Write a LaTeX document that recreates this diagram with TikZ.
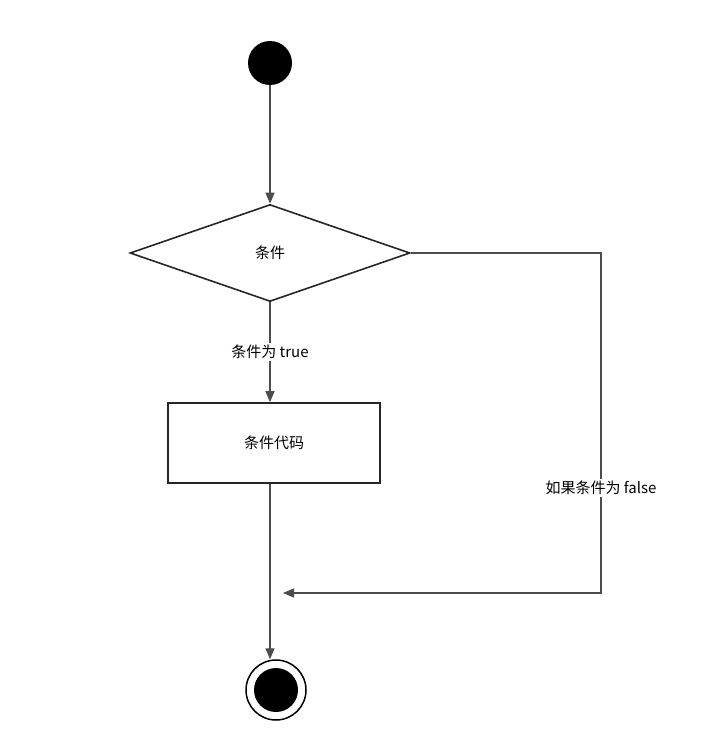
\documentclass[tikz,border=0pt]{standalone}
\usepackage{fontspec}
\setmainfont{Liberation Sans}
\newfontfamily\cjk{Noto Sans CJK SC}
\usetikzlibrary{shapes.geometric, arrows.meta}
\tikzset{>={Triangle[width=9pt,length=11pt]}}
\tikzset{
  flow/.style = {draw=black!70, line width=1.2pt},
  lbl/.style = {fill=white, inner sep=2pt, font=\cjk\fontsize{15}{18}\selectfont},
  cond/.style = {diamond, draw=black!85, line width=1.6pt, aspect=2.9, minimum width=280pt, minimum height=97pt, inner sep=0pt, font=\cjk\fontsize{15}{18}\selectfont},
  codebox/.style = {rectangle, draw=black!85, line width=1.6pt, minimum width=212pt, minimum height=80pt, font=\cjk\fontsize{15}{18}\selectfont}
}

\begin{document}
\begin{tikzpicture}[x=1pt, y=-1pt]
		% Frame
		\useasboundingbox (0,0) rectangle (714,736);

		% Nodes
		\node[circle, fill=black, minimum size=44pt, inner sep=0pt] (start) at (270,63) {};
		\node[cond] (test) at (270,253) {条件};
		\node[codebox] (code) at (274,443) {条件代码};
		\node[circle, draw=black, line width=1.5pt, minimum size=60pt, inner sep=0pt] (stop) at (276,690) {};
		\node[circle, fill=black, minimum size=44pt, inner sep=0pt] at (stop) {};

		% Coordinates
		\coordinate (tr) at (601,253);
		\coordinate (br) at (601,593);
		\coordinate (join) at (283,593);

		% Connectors
		\draw[flow, ->] (start) -- (test.north);
		\draw[flow, ->] (test.south) -- node[lbl] {条件为 true} (code.north -| test.south);
		\draw[flow, ->] (code.south -| test.south) -- (stop.north -| test.south);
		\draw[flow, ->] (test.east) -- (tr) -- node[lbl, pos=0.69] {如果条件为 false} (br) -- (join);
	\end{tikzpicture}
\end{document}
